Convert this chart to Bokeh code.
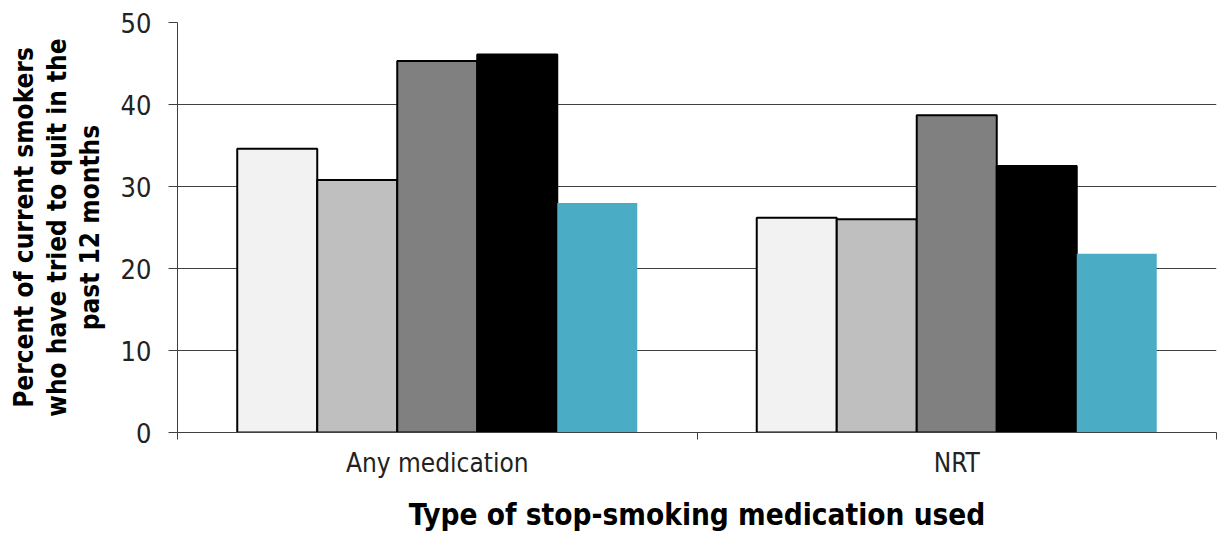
from bokeh.plotting import figure
from bokeh.models import FixedTicker, Range1d
from bokeh.embed import file_html
from bokeh.resources import INLINE

categories = ["Any medication", "NRT"]
series_a = [34.6, 26.2]
series_b = [30.8, 26.0]
series_c = [45.3, 38.7]
series_d = [46.1, 32.5]
series_e = [28.0, 21.8]
all_series = [series_a, series_b, series_c, series_d, series_e]
y_ticks = [0, 10, 20, 30, 40, 50]
x_title = "Type of stop-smoking medication used"
y_title = "Percent of current smokers\nwho have tried to quit in the\npast 12 months"

fills = ["#F2F2F2", "#BFBFBF", "#808080", "#000000", "#4BACC6"]
outlines = ["#000000", "#000000", "#000000", "#000000", None]

FONT = "DejaVu Sans Condensed"

p = figure(width=1219, height=534, output_backend="svg", toolbar_location=None,
           x_range=Range1d(0, 2), y_range=Range1d(0, 50),
           min_border_left=177, min_border_right=3, min_border_top=22, min_border_bottom=101)
p.outline_line_color = None
p.background_fill_color = "white"
p.xgrid.visible = False
p.ygrid.grid_line_color = "#404040"
p.ygrid.grid_line_width = 1

w = 0.154
for j, vals in enumerate(all_series):
    xs = [i + 0.5 + (j - 2) * w for i in range(len(categories))]
    if outlines[j] is None:
        p.vbar(x=xs, top=vals, bottom=0, width=w, fill_color=fills[j], line_color=None)
    else:
        p.vbar(x=xs, top=vals, bottom=0, width=w, fill_color=fills[j],
               line_color=outlines[j], line_width=2)

# y axis
ya = p.yaxis[0]
ya.ticker = FixedTicker(ticks=y_ticks)
ya.axis_line_color = "#404040"
ya.major_tick_line_color = "#404040"
ya.major_tick_out = 9
ya.major_tick_in = 0
ya.minor_tick_line_color = None
ya.major_label_text_font = FONT
ya.major_label_text_font_size = "27px"
ya.major_label_text_color = "#222222"
ya.major_label_standoff = 17
ya.axis_label = y_title
ya.axis_label_text_font = FONT
ya.axis_label_text_font_style = "bold"
ya.axis_label_text_font_size = "26px"
ya.axis_label_text_line_height = 1.1
ya.axis_label_text_color = "black"
ya.axis_label_standoff = 13

# x axis
xa = p.xaxis[0]
xa.ticker = FixedTicker(ticks=[0.5, 1.5], minor_ticks=[0, 1, 2])
xa.major_label_overrides = {0.5: categories[0], 1.5: categories[1]}
xa.axis_line_color = "#404040"
xa.major_tick_out = 0
xa.major_tick_in = 0
xa.minor_tick_out = 7
xa.minor_tick_in = 0
xa.minor_tick_line_color = "#404040"
xa.major_label_text_font = FONT
xa.major_label_text_font_size = "26px"
xa.major_label_text_line_height = 1.0
xa.major_label_text_color = "#222222"
xa.major_label_standoff = 8
xa.axis_label = x_title
xa.axis_label_text_font = FONT
xa.axis_label_text_font_style = "bold"
xa.axis_label_text_font_size = "29.5px"
xa.axis_label_text_line_height = 1.0
xa.axis_label_text_color = "black"
xa.axis_label_standoff = 17

open("out.html", "w").write(file_html(p, INLINE))
